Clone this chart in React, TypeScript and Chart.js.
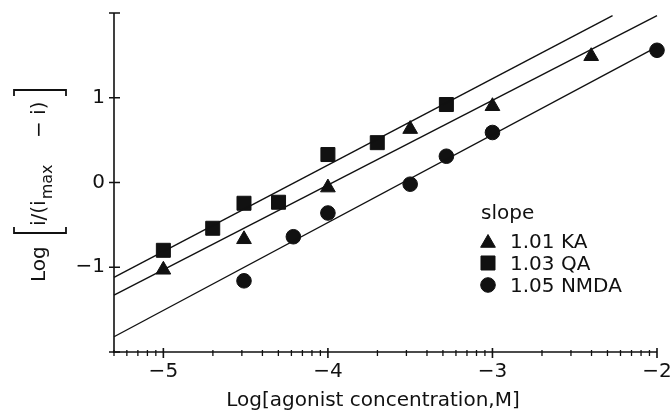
import React, { useEffect, useRef } from "react";
import { Chart, registerables } from "chart.js";
Chart.register(...registerables);

// ---- data ----
const kaX = [-5, -4.51, -4, -3.5, -3, -2.4];
const kaY = [-1.03, -0.67, -0.06, 0.63, 0.9, 1.49];
const qaX = [-5, -4.7, -4.51, -4.3, -4, -3.7, -3.28];
const qaY = [-0.8, -0.54, -0.245, -0.233, 0.33, 0.47, 0.92];
const nmdaX = [-4.51, -4.21, -4, -3.5, -3.28, -3, -2];
const nmdaY = [-1.16, -0.64, -0.36, -0.02, 0.31, 0.59, 1.56];

const kaFitX = [-5.3, -2];
const kaFitY = [-1.33, 1.97];
const qaFitX = [-5.3, -2.27];
const qaFitY = [-1.12, 1.97];
const nmdaFitX = [-5.3, -2];
const nmdaFitY = [-1.82, 1.6];

const seriesLabels = ["1.01 KA", "1.03 QA", "1.05 NMDA"];
const legendTitle = "slope";

const xMajorTicks = [-5, -4, -3, -2];
const xMinorDecades = [-6, -5, -4, -3];
const xMinorMultipliers = [2, 3, 4, 5, 6, 7, 8, 9];
const yMajorTicks = [-2, -1, 0, 1, 2];
const yLabeledTicks = [-1, 0, 1];

const xTitle = "Log[agonist concentration,M]";
const yTitleLog = "Log";
const yTitleA = "i/(i";
const yTitleSub = "max";
const yTitleB = "\u2212 i)";

const FONT = "'DejaVu Sans', sans-serif";
const INK = "#111";

const fmt = (v: number) => (v < 0 ? "\u2212" + Math.abs(v) : String(v));
const toXY = (xs: number[], ys: number[]) => xs.map((x, i) => ({ x, y: ys[i] }));

function drawMarker(ctx: CanvasRenderingContext2D, style: string, r: number, x: number, y: number) {
  ctx.beginPath();
  if (style === "triangle") {
    ctx.moveTo(x, y - r);
    ctx.lineTo(x + Math.sin(Math.PI / 3) * r, y + r / 2);
    ctx.lineTo(x - Math.sin(Math.PI / 3) * r, y + r / 2);
    ctx.closePath();
  } else if (style === "rect") {
    const s = r / Math.SQRT2;
    ctx.rect(x - s, y - s, 2 * s, 2 * s);
  } else {
    ctx.arc(x, y, r, 0, Math.PI * 2);
  }
  ctx.fill();
  ctx.stroke();
}

const customPlugin = {
  id: "customAxes",
  afterDraw(chart: any) {
    const { ctx, chartArea } = chart;
    const xs = chart.scales.x;
    const ys = chart.scales.y;
    const left = chartArea.left;
    const bottom = chartArea.bottom;
    ctx.save();
    ctx.strokeStyle = INK;
    ctx.fillStyle = INK;
    ctx.lineWidth = 1.6;
    // axis lines
    ctx.beginPath();
    ctx.moveTo(left, ys.getPixelForValue(ys.max));
    ctx.lineTo(left, ys.getPixelForValue(ys.min) + 1);
    ctx.moveTo(left - 1, bottom);
    ctx.lineTo(xs.getPixelForValue(xs.max), bottom);
    ctx.stroke();
    // y major ticks
    ctx.beginPath();
    yMajorTicks.forEach((v) => {
      const py = ys.getPixelForValue(v);
      ctx.moveTo(left - 5, py);
      ctx.lineTo(left + 6, py);
    });
    // x major ticks
    xMajorTicks.forEach((v) => {
      const px = xs.getPixelForValue(v);
      ctx.moveTo(px, bottom - 4);
      ctx.lineTo(px, bottom + 6);
    });
    ctx.stroke();
    // x minor ticks
    ctx.lineWidth = 1.3;
    ctx.beginPath();
    xMinorDecades.forEach((d) => {
      xMinorMultipliers.forEach((m) => {
        const v = d + Math.log10(m);
        if (v >= xs.min - 0.005 && v <= xs.max) {
          const px = xs.getPixelForValue(Math.max(v, xs.min));
          ctx.moveTo(px, bottom - 2);
          ctx.lineTo(px, bottom + 4);
        }
      });
    });
    ctx.stroke();

    // x title
    ctx.font = `20px ${FONT}`;
    ctx.textAlign = "center";
    ctx.textBaseline = "alphabetic";
    ctx.fillText(xTitle, 373, 406);

    // y title (rotated, reading upward)
    const rot = (text: string, bx: number, sy: number, size: number) => {
      ctx.save();
      ctx.translate(bx, sy);
      ctx.rotate(-Math.PI / 2);
      ctx.font = `${size}px ${FONT}`;
      ctx.textAlign = "left";
      ctx.textBaseline = "alphabetic";
      ctx.fillText(text, 0, 0);
      ctx.restore();
      ctx.font = `${size}px ${FONT}`;
      return ctx.measureText(text).width;
    };
    let sy = 282;
    rot(yTitleLog, 45, sy, 20);
    // opening bracket
    ctx.lineWidth = 1.8;
    ctx.beginPath();
    ctx.moveTo(14, 227);
    ctx.lineTo(14, 233);
    ctx.lineTo(66, 233);
    ctx.lineTo(66, 227);
    ctx.stroke();
    sy = 226;
    sy -= rot(yTitleA, 45, sy, 20);
    sy -= 1;
    sy -= rot(yTitleSub, 52, sy, 16);
    rot(yTitleB, 45, 138, 20);
    // closing bracket
    ctx.beginPath();
    ctx.moveTo(14, 96);
    ctx.lineTo(14, 90);
    ctx.lineTo(66, 90);
    ctx.lineTo(66, 96);
    ctx.stroke();

    // legend
    ctx.font = `20px ${FONT}`;
    ctx.textAlign = "left";
    ctx.textBaseline = "alphabetic";
    ctx.fillText(legendTitle, 481, 219);
    const rows = chart.data.datasets.filter((d: any) => d.isSeries);
    rows.forEach((d: any, i: number) => {
      const cy = 241 + i * 22;
      ctx.lineWidth = 1;
      drawMarker(ctx, d.pointStyle, d.pointRadius, 488, cy + (d.pointStyle === "triangle" ? 2 : 0));
      ctx.fillText(d.label, 510, cy + 7);
    });
    ctx.restore();
  },
};

export default function App() {
  const ref = useRef<HTMLCanvasElement | null>(null);
  useEffect(() => {
    document.body.style.margin = "0";
    const canvas = ref.current;
    if (!canvas) return;
    const pointBase = {
      showLine: false,
      backgroundColor: INK,
      borderColor: INK,
      borderWidth: 1,
      isSeries: true,
    };
    const lineBase = {
      showLine: true,
      pointRadius: 0,
      borderColor: INK,
      borderWidth: 1.4,
      fill: false,
      isSeries: false,
    };
    const chart = new Chart(canvas, {
      type: "scatter",
      data: {
        datasets: [
          { ...lineBase, label: "KA fit", data: toXY(kaFitX, kaFitY) },
          { ...lineBase, label: "QA fit", data: toXY(qaFitX, qaFitY) },
          { ...lineBase, label: "NMDA fit", data: toXY(nmdaFitX, nmdaFitY) },
          { ...pointBase, label: seriesLabels[0], data: toXY(kaX, kaY), pointStyle: "triangle", pointRadius: 8.5 },
          { ...pointBase, label: seriesLabels[1], data: toXY(qaX, qaY), pointStyle: "rect", pointRadius: 9.9 },
          { ...pointBase, label: seriesLabels[2], data: toXY(nmdaX, nmdaY), pointStyle: "circle", pointRadius: 7.3 },
        ] as any,
      },
      options: {
        animation: false,
        responsive: false,
        devicePixelRatio: 1,
        clip: false as any,
        layout: { padding: { top: 13, right: 15, left: 0, bottom: 0 } },
        plugins: {
          legend: { display: false },
          tooltip: { enabled: false },
          title: { display: false },
        },
        scales: {
          x: {
            type: "linear",
            min: -5.3,
            max: -2,
            grid: { display: false, drawTicks: false },
            border: { display: false },
            afterBuildTicks: (s: any) => {
              s.ticks = xMajorTicks.map((v) => ({ value: v }));
            },
            afterFit: (s: any) => {
              s.height = 59;
              s.paddingLeft = 0;
              s.paddingRight = 0;
            },
            ticks: {
              padding: 8,
              color: INK,
              font: { family: FONT, size: 20 },
              maxRotation: 0,
              autoSkip: false,
              callback: (v: any) => fmt(Number(v)),
            },
          },
          y: {
            type: "linear",
            min: -2,
            max: 2,
            grid: { display: false, drawTicks: false },
            border: { display: false },
            afterBuildTicks: (s: any) => {
              s.ticks = yMajorTicks.map((v) => ({ value: v }));
            },
            afterFit: (s: any) => {
              s.width = 114;
              s.paddingTop = 0;
              s.paddingBottom = 0;
            },
            ticks: {
              padding: 9,
              color: INK,
              font: { family: FONT, size: 20 },
              autoSkip: false,
              callback: (v: any) => (yLabeledTicks.includes(Number(v)) ? fmt(Number(v)) : ""),
            },
          },
        },
      },
      plugins: [customPlugin],
    });
    return () => chart.destroy();
  }, []);
  return (
    <div style={{ width: 672, height: 411 }}>
      <canvas ref={ref} width={672} height={411} style={{ display: "block" }} />
    </div>
  );
}
